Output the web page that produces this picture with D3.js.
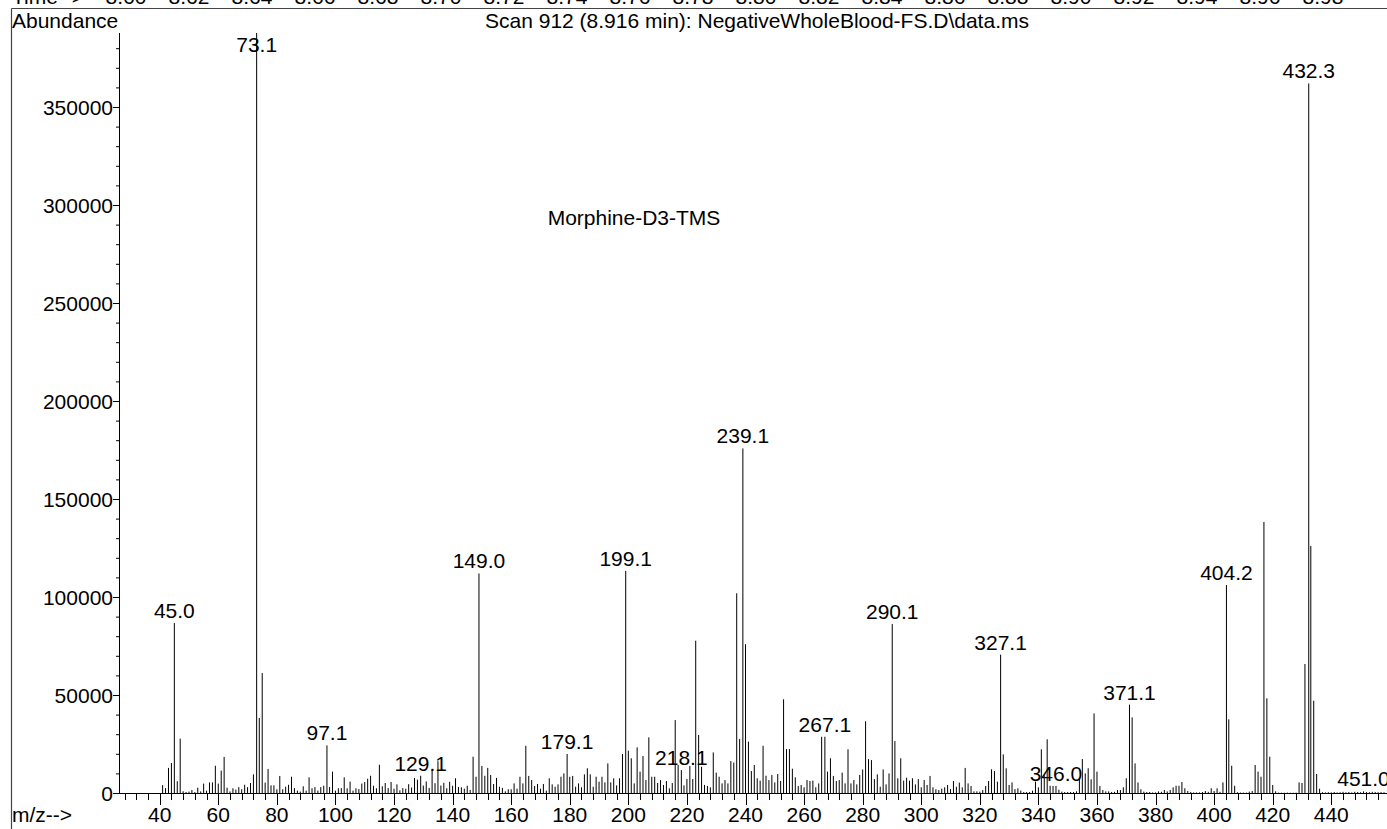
<!DOCTYPE html>
<html><head><meta charset="utf-8">
<script src="https://cdn.jsdelivr.net/npm/d3@7"></script>
<style>
html,body{margin:0;padding:0;background:#fff;overflow:hidden;}
svg{display:block;font-family:"Liberation Sans",Arial,Helvetica,sans-serif;}
</style>
</head><body>
<svg id="chart" width="1387" height="829"></svg>
<script>
// ---- data (m/z, abundance) ----
const peaks = [
 [41,4000],[42,2500],[43,12800],[44,15300],[45.0,86700],[46,6000],[47,27700],[48,900],[49,500],[50,700],
 [51,1500],[52,500],[53,2700],[54,800],[55,4800],[56,1200],[57,5400],[58,5400],[59,13900],[60,4800],
 [61,11400],[62,18400],[63,2700],[64,800],[65,2400],[66,1700],[67,3000],[68,1900],[69,4200],[70,3000],
 [71,5100],[72,9500],[73.1,395000],[74,38300],[75,61200],[76,5300],[77,12200],[78,3900],[79,3900],[80,1900],
 [81,8700],[82,1900],[83,3200],[84,4200],[85,8300],[86,2500],[87,1200],[88,700],[89,3400],[90,1200],
 [91,8000],[92,2400],[93,3000],[94,1200],[95,3000],[96,3700],[97.1,24300],[98,3000],[99,10900],[100,1200],
 [101,2400],[102,2500],[103,8000],[104,2400],[105,5800],[106,1200],[107,2400],[108,2000],[109,4800],[110,5600],
 [111,7300],[112,8800],[113,3700],[114,2400],[115,14400],[116,3400],[117,5100],[118,2500],[119,5600],[120,2200],
 [121,4400],[122,1400],[123,2500],[124,2200],[125,4500],[126,2800],[127,7700],[128,6800],[129.1,8800],[130,3800],
 [131,5900],[132,2600],[133,12000],[134,5000],[135,16200],[136,3800],[137,5200],[138,2400],[139,5700],[140,3700],
 [141,7500],[142,3100],[143,2900],[144,2200],[145,3700],[146,1500],[147,18500],[148,8300],[149.0,112000],[150,13800],
 [151,8800],[152,12800],[153,9200],[154,4600],[155,7700],[156,3200],[157,2600],[158,850],[159,1900],[160,1900],
 [161,4900],[162,2200],[163,8300],[164,4900],[165,24100],[166,8700],[167,6600],[168,3600],[169,4600],[170,2200],
 [171,4600],[172,1200],[173,7500],[174,4400],[175,3200],[176,4400],[177,8300],[178,10000],[179.1,19900],[180,8300],
 [181,8700],[182,3200],[183,4900],[184,2900],[185,9500],[186,12600],[187,9500],[188,3200],[189,8300],[190,5800],
 [191,8300],[192,5400],[193,15100],[194,5400],[195,7500],[196,3900],[197,7500],[198,19900],[199.1,113300],[200,21600],
 [201,17700],[202,4900],[203,23300],[204,10900],[205,18900],[206,6600],[207,28400],[208,8300],[209,8300],[210,5100],
 [211,6600],[212,4100],[213,6100],[214,2400],[215,5100],[216,37200],[217,14300],[218.1,11700],[219,3900],[220,7100],
 [221,13800],[222,7100],[223,77700],[224,29600],[225,13400],[226,4100],[227,3600],[228,2900],[229,20700],[230,10400],
 [231,8300],[232,4900],[233,6600],[234,4900],[235,16300],[236,15500],[237,101900],[238,27600],[239.1,175800],[240,75900],
 [241,26200],[242,11200],[243,14300],[244,7500],[245,6300],[246,24100],[247,8800],[248,6600],[249,9200],[250,5400],
 [251,9700],[252,6100],[253,47800],[254,22400],[255,22400],[256,12400],[257,8000],[258,3600],[259,4100],[260,2900],
 [261,6600],[262,6100],[263,6300],[264,2900],[265,4900],[266,28700],[267.1,28700],[268,10900],[269,17700],[270,8700],
 [271,6100],[272,6600],[273,10400],[274,4900],[275,22300],[276,4900],[277,6600],[278,4400],[279,9200],[280,12000],
 [281,36600],[282,17300],[283,16800],[284,7100],[285,9500],[286,3200],[287,12000],[288,4400],[289,10000],[290.1,86200],
 [291,26500],[292,7500],[293,17700],[294,6300],[295,7800],[296,6300],[297,7500],[298,4400],[299,7100],[300,2900],
 [301,6600],[302,4100],[303,8700],[304,2900],[305,1900],[306,1500],[307,2200],[308,2900],[309,4100],[310,2000],
 [311,6100],[312,3200],[313,5300],[314,2900],[315,12800],[316,4900],[317,3600],[318,850],[319,850],[320,700],
 [321,1500],[322,3600],[323,6100],[324,12100],[325,11200],[326,5800],[327.1,70600],[328,19700],[329,12600],[330,4100],
 [331,5400],[332,2000],[333,2400],[334,1200],[335,500],[336,500],[337,500],[338,1200],[339,5800],[340,2900],
 [341,22300],[342,9000],[343,27400],[344,3700],[345,3600],[346.0,3600],[347,1700],[348,700],[349,500],[350,500],
 [351,500],[352,500],[353,850],[354,7500],[355,17300],[356,10000],[357,12600],[358,7000],[359,40600],[360,10900],
 [361,3600],[362,1500],[363,800],[364,800],[365,500],[366,600],[367,1500],[368,1500],[369,2900],[370,7500],
 [371.1,45100],[372,38600],[373,15100],[374,5400],[375,1900],[376,700],[377,500],[378,500],[379,300],[380,300],
 [381,800],[382,600],[383,1500],[384,800],[385,1500],[386,2900],[387,3700],[388,3700],[389,5600],[390,2400],
 [391,1000],[392,500],[393,300],[394,300],[395,300],[396,500],[397,1000],[398,600],[399,2400],[400,1000],
 [401,2400],[402,600],[403,5400],[404.2,106100],[405,37600],[406,13900],[407,3700],[408,400],[409,200],[410,200],
 [411,200],[412,700],[413,1000],[414,14300],[415,10900],[416,8300],[417,138300],[418,48300],[419,18500],[420,4100],
 [421,850],[422,200],[423,150],[424,150],[425,200],[426,150],[427,150],[428,200],[429,5400],[430,5100],
 [431,65800],[432.3,362000],[433,126000],[434,47100],[435,9700],[436,2200],[437,400],[438,300],[439,400],[440,300],
 [441,500],[442,300],[443,400],[444,600],[445,400],[446,500],[447,300],[448,600],[449,500],[450,400],
 [451.0,800],[452,500],[453,400],[454,600],[455,500],[456,400],[457,500],[458,400]
];
const labelledMz = [45.0,73.1,97.1,129.1,149.0,179.1,199.1,218.1,239.1,267.1,290.1,327.1,346.0,371.1,404.2,432.3,451.0];
const yTickValues = [0,50000,100000,150000,200000,250000,300000,350000];
const xTickValues = [40,60,80,100,120,140,160,180,200,220,240,260,280,300,320,340,360,380,400,420,440];
const timeTickLabels = ["8.60","8.62","8.64","8.66","8.68","8.70","8.72","8.74","8.76","8.78","8.80","8.82","8.84","8.86","8.88","8.90","8.92","8.94","8.96","8.98"];
const titleText = "Scan 912 (8.916 min): NegativeWholeBlood-FS.D\\data.ms";
const compoundText = "Morphine-D3-TMS";

// ---- layout ----
const W = 1387, H = 829;
const FS = 21;
const svg = d3.select("#chart");
const x = d3.scaleLinear().domain([40, 440]).range([159.7, 1331.3]);
const y = d3.scaleLinear().domain([0, 350000]).range([793, 107]);
const yTop = 33, axisX = 119;
const yMaxVal = y.invert(yTop);

// frame
svg.append("line").attr("x1",11.5).attr("x2",11.5).attr("y1",8.5).attr("y2",H)
  .attr("stroke","#444").attr("stroke-width",1.2);
svg.append("line").attr("x1",11.5).attr("x2",W).attr("y1",8.5).attr("y2",8.5)
  .attr("stroke","#444").attr("stroke-width",1.2);

// time row (clipped at top, as in the reference)
const tScale = d3.scaleLinear().domain([8.60, 8.98]).range([126, 1323]);
svg.append("text").attr("x",12).attr("y",4).attr("font-size",FS).text("Time-->");
svg.selectAll("text.time").data(timeTickLabels).join("text").attr("class","time")
  .attr("x", d => tScale(+d)).attr("y",4).attr("text-anchor","middle").attr("font-size",FS).text(d=>d);

// header texts
svg.append("text").attr("x",12).attr("y",28).attr("font-size",FS).text("Abundance");
svg.append("text").attr("x",757).attr("y",28).attr("text-anchor","middle").attr("font-size",FS).text(titleText);

// y axis
const gy = svg.append("g").attr("transform",`translate(${axisX},0)`);
gy.append("line").attr("x1",0.5).attr("x2",0.5).attr("y1",yTop).attr("y2",793.5).attr("stroke","#000");
const yMinor = d3.range(0, yMaxVal, 10000);
gy.selectAll("line.ymin").data(yMinor).join("line").attr("class","ymin")
  .attr("x1",-3).attr("x2",0.5).attr("y1",d=>y(d)+0.5).attr("y2",d=>y(d)+0.5).attr("stroke","#000");
gy.selectAll("line.ymaj").data(yTickValues).join("line").attr("class","ymaj")
  .attr("x1",-6).attr("x2",0.5).attr("y1",d=>y(d)+0.5).attr("y2",d=>y(d)+0.5).attr("stroke","#000");
gy.selectAll("text.ylab").data(yTickValues).join("text").attr("class","ylab")
  .attr("x",-6).attr("y",d=>y(d)+7.5).attr("text-anchor","end").attr("font-size",FS).text(d=>d);

// x axis
const gx = svg.append("g");
gx.append("line").attr("x1",axisX).attr("x2",W).attr("y1",793.5).attr("y2",793.5).attr("stroke","#000");
const xMinor = d3.range(28, 460, 4);
gx.selectAll("line.xmin").data(xMinor).join("line").attr("class","xmin")
  .attr("x1",d=>Math.round(x(d))+0.5).attr("x2",d=>Math.round(x(d))+0.5).attr("y1",793).attr("y2",800).attr("stroke","#000");
gx.selectAll("line.xmaj").data(xTickValues).join("line").attr("class","xmaj")
  .attr("x1",d=>Math.round(x(d))+0.5).attr("x2",d=>Math.round(x(d))+0.5).attr("y1",793).attr("y2",805).attr("stroke","#000");
gx.selectAll("text.xlab").data(xTickValues).join("text").attr("class","xlab")
  .attr("x",d=>x(d)).attr("y",822).attr("text-anchor","middle").attr("font-size",FS).text(d=>d);
svg.append("text").attr("x",12).attr("y",822).attr("font-size",FS).text("m/z-->");

// peaks
const yc = v => Math.max(y(v), yTop);
svg.append("g").selectAll("line").data(peaks).join("line")
  .attr("x1",d=>x(d[0])).attr("x2",d=>x(d[0]))
  .attr("y1",793).attr("y2",d=>yc(d[1]))
  .attr("stroke","#000").attr("stroke-width",1);

// peak labels
const lab = labelledMz.map(m => peaks.find(p => p[0] === m));
svg.append("g").selectAll("text").data(lab).join("text")
  .attr("x",d=>x(d[0])).attr("y",d=>Math.max(yc(d[1]) - 5, 52))
  .attr("text-anchor","middle").attr("font-size",FS).text(d=>d[0].toFixed(1));

// compound name
svg.append("text").attr("x",634).attr("y",225).attr("text-anchor","middle").attr("font-size",FS).text(compoundText);
</script>
</body></html>
